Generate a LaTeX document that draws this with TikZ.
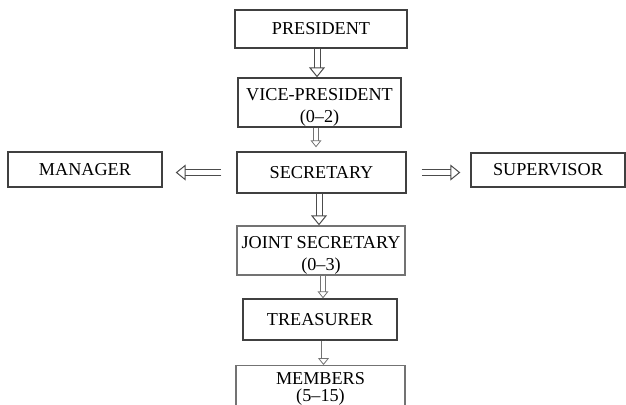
\documentclass[tikz,border=0pt]{standalone}
\usepackage{fontspec}
\setmainfont{Liberation Serif}
\usetikzlibrary{arrows.meta}
\definecolor{boxgray}{gray}{0.25}
\definecolor{lightgray}{gray}{0.45}
\definecolor{arrgray}{gray}{0.3}
\tikzset{
  box/.style={draw=boxgray, line width=0.7pt, inner sep=0pt, align=center,
    font=\fontsize{9.1}{11}\selectfont},
  fat/.style={draw=arrgray, double=white, double distance=2.5pt, line width=0.5pt,
    -{Triangle[open, length=5pt, width=8pt]}},
  slim/.style={draw=lightgray, double=white, double distance=2pt, line width=0.4pt,
    -{Triangle[open, length=3.5pt, width=5.5pt]}}
}

\begin{document}
\begin{tikzpicture}[x=0.5pt, y=-0.5pt]
\clip (0,0) rectangle (626,404);
\node[box, minimum width=86pt, minimum height=19pt] (pres) at (321,29) {PRESIDENT};
\node[box, minimum width=81.5pt, minimum height=24.5pt] (vp) at (319.5,102.5) {\rule{0pt}{11pt}VICE-PRESIDENT\\(0--2)};
\node[box, minimum width=84.5pt, minimum height=20.5pt] (sec) at (321.5,172.5) {SECRETARY};
\node[box, minimum width=77pt, minimum height=17.5pt] (man) at (85,169.5) {MANAGER};
\node[box, minimum width=77pt, minimum height=17pt] (sup) at (548,170) {SUPERVISOR};
\node[box, draw=lightgray, minimum width=84pt, minimum height=24.5pt] (js) at (321,250.5) {\rule{0pt}{11pt}JOINT SECRETARY\\(0--3)};
\node[box, minimum width=77pt, minimum height=20.5pt] (tr) at (320,319.5) {TREASURER};
\node[box, draw=lightgray, minimum width=84.5pt, minimum height=23pt, anchor=north,
  font=\fontsize{9.1}{8.5}\selectfont] (mem) at (320.5,365) {MEMBERS\\(5--15)};
\draw[fat] ([xshift=-2pt]pres.south) -- ([xshift=-2pt]pres.south |- vp.north);
\draw[slim] ([xshift=-1.75pt]vp.south) -- ([xshift=-1.75pt,yshift=2pt]vp.south |- sec.north);
\draw[fat] ([xshift=-1.25pt]sec.south) -- ([xshift=-1.25pt]sec.south |- js.north);
\draw[fat, shorten <=7.5pt, shorten >=6.5pt] (sec.west) -- (sec.west -| man.east);
\draw[fat, shorten <=7.5pt, shorten >=5pt] (sec.east) -- (sec.east -| sup.west);
\draw[slim] ([xshift=1pt]js.south) -- ([xshift=1pt]js.south |- tr.north);
\draw[slim] ([xshift=1.75pt]tr.south) -- ([xshift=1.75pt]tr.south |- mem.north);
\end{tikzpicture}
\end{document}
